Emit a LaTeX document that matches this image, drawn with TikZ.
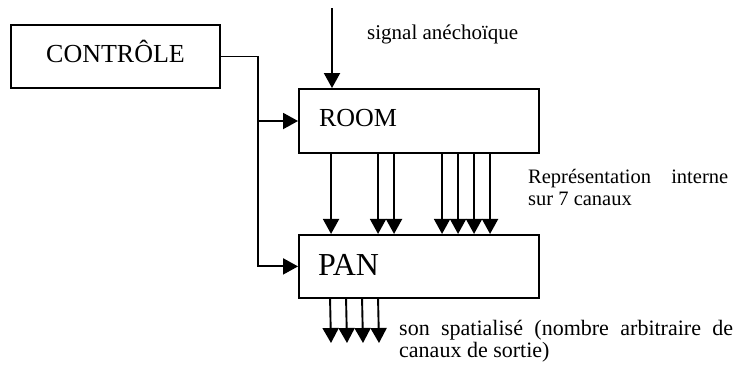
\documentclass[tikz,border=0pt]{standalone}
\usepackage{fontspec}
\setmainfont{Liberation Serif}
\usetikzlibrary{positioning, arrows.meta}

\begin{document}
\begin{tikzpicture}[
    x=1pt, y=-1pt,
    box/.style={rectangle, draw, line width=1.9pt, minimum width=240pt, minimum height=64pt, inner xsep=20pt, text width=200pt, align=left, text height=18pt, text depth=8pt, font=\fontsize{26}{30}\selectfont},
    note/.style={inner sep=0pt, font=\fontsize{20.5}{22}\selectfont},
    line/.style={draw, line width=1.9pt, -{Triangle[length=15pt, width=16pt]}}
  ]
  \useasboundingbox (0,0) rectangle (739,365);

  \node[box, minimum width=209pt, minimum height=63pt, text width=169pt, align=center, text height=23pt, text depth=12pt] (ctrl) at (115.5,56.5) {CONTRÔLE};
  \node[box] (room) at (419,121) {ROOM};
  \node[box, below=80pt of room, minimum height=63pt, inner xsep=19pt, text width=202pt, text height=24pt, text depth=5pt, font=\fontsize{32}{36}\selectfont] (pan) {PAN};

  \coordinate (src) at (332,8);
  \coordinate[left=40pt of room.west] (split);
  \coordinate (sink) at (299,343);

  \node[note, anchor=base west, font=\fontsize{21}{24}\selectfont] (sig) at (367,39) {signal anéchoïque};
  \node[note, anchor=base west, text width=200pt, align=justify] (repr) at (528,183) {Représentation interne\linebreak sur 7 canaux};
  \node[note, anchor=base west, text width=334pt, align=justify, font=\fontsize{22}{22}\selectfont] (spat) at (399,335) {son spatialisé (nombre arbitraire de\linebreak canaux de sortie)};

  \draw[line] (src) -- (src |- room.north);
  \draw[line] (ctrl.east) -| (split) -- (room.west);
  \draw[line] (split) |- (pan.west);
  \foreach \dx in {33,80,96,144,160,176,192}
    \draw[line] ([xshift=\dx pt]room.south west) -- ([xshift=\dx pt]pan.north west);
  \foreach \dx in {32,48,64,80}
    \draw[line] ([xshift=\dx pt]pan.south west) -- ([xshift=\dx pt]sink);

\end{tikzpicture}
\end{document}
